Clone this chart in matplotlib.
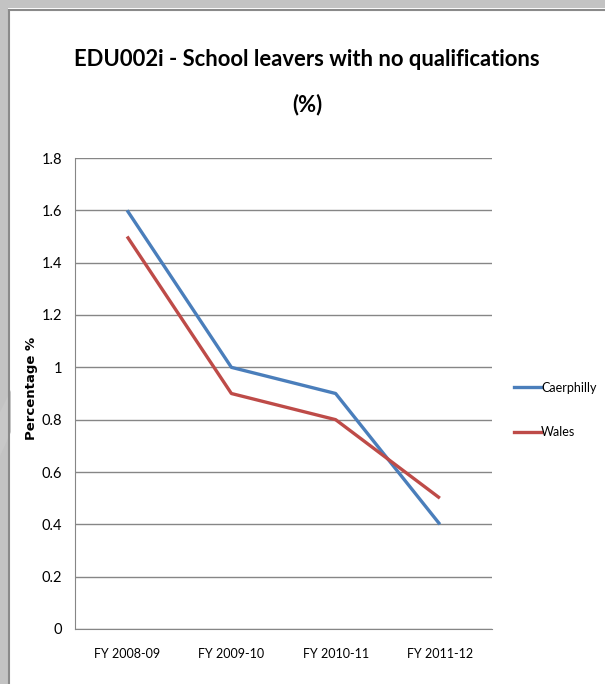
import matplotlib
matplotlib.use("Agg")
import matplotlib.pyplot as plt
from matplotlib.patches import Rectangle, Polygon
from matplotlib.lines import Line2D

categories = ["FY 2008-09", "FY 2009-10", "FY 2010-11", "FY 2011-12"]
caerphilly = [1.6, 1.0, 0.9, 0.4]
wales = [1.5, 0.9, 0.8, 0.5]
yticks = [0, 0.2, 0.4, 0.6, 0.8, 1, 1.2, 1.4, 1.6, 1.8]
ytick_labels = ["0", "0.2", "0.4", "0.6", "0.8", "1", "1.2", "1.4", "1.6", "1.8"]

W, H = 605, 684
fig = plt.figure(figsize=(W / 100, H / 100), dpi=100)
fig.patch.set_facecolor("white")

narrow = ["Lato", "DejaVu Sans"]

def fx(px):
    return px / W

def fy(py):
    return 1 - py / H

# window frame along the top and left edges
fig.patches.append(Rectangle((0, fy(8)), 1, 8 / H, transform=fig.transFigure,
                             facecolor="#c3c3c3", edgecolor="none", zorder=0))
fig.patches.append(Rectangle((0, 0), 8 / W, 1, transform=fig.transFigure,
                             facecolor="#c3c3c3", edgecolor="none", zorder=0))
fig.add_artist(Line2D([fx(9), 1], [fy(10), fy(10)], transform=fig.transFigure,
                      color="#8a8a8a", lw=1.5))
fig.add_artist(Line2D([fx(9), fx(9)], [0, fy(10)], transform=fig.transFigure,
                      color="#8a8a8a", lw=1.5))
fig.patches.append(Polygon([(0, fy(412)), (fx(11), fy(390)), (fx(11), fy(432)),
                            (0, fy(456))], closed=True, transform=fig.transFigure,
                           facecolor="#c8c8c8", edgecolor="none", zorder=1))

left, right, top, bottom = 75, 492, 158, 629
ax = fig.add_axes([fx(left), fy(bottom), fx(right) - fx(left), (bottom - top) / H])

x = list(range(len(categories)))
ax.plot(x, caerphilly, color="#4a7ebb", lw=2.4, solid_capstyle="butt", zorder=3)
ax.plot(x, wales, color="#be4b48", lw=2.4, solid_capstyle="butt", zorder=3)

ax.set_xlim(-0.5, 3.5)
ax.set_ylim(0, 1.8)
ax.set_yticks(yticks)
ax.set_yticklabels(ytick_labels, family=narrow, fontsize=10.5)
ax.set_xticks(x)
ax.set_xticklabels(categories, family=narrow, fontsize=9)
ax.tick_params(axis="both", length=0, colors="black")
ax.tick_params(axis="y", pad=9.5)
ax.tick_params(axis="x", pad=14)
ax.yaxis.grid(True, color="#868686", lw=1)
ax.set_axisbelow(True)
for s in ["top", "right"]:
    ax.spines[s].set_visible(False)
ax.spines["left"].set_color("#868686")
ax.spines["bottom"].set_color("#868686")

fig.text(fx(32), fy(388), "Percentage %", rotation=90, ha="center", va="center",
         fontsize=9.5, fontweight="bold", family="DejaVu Sans")

fig.text(fx(307), fy(60), "EDU002i - School leavers with no qualifications",
         ha="center", va="center", fontsize=15.8, fontweight="bold", family=narrow)
fig.text(fx(307), fy(105), "(%)", ha="center", va="center", fontsize=15.8,
         fontweight="bold", family=narrow)

handles = [Line2D([], [], color="#4a7ebb", lw=2.4),
           Line2D([], [], color="#be4b48", lw=2.4)]
leg = fig.legend(handles, ["Caerphilly", "Wales"], loc="center left",
                 bbox_to_anchor=(fx(503), fy(410)), frameon=False,
                 prop={"family": narrow, "size": 9}, handlelength=2.1,
                 handletextpad=0.05, labelspacing=2.6)

fig.savefig("out.png", dpi=100)
